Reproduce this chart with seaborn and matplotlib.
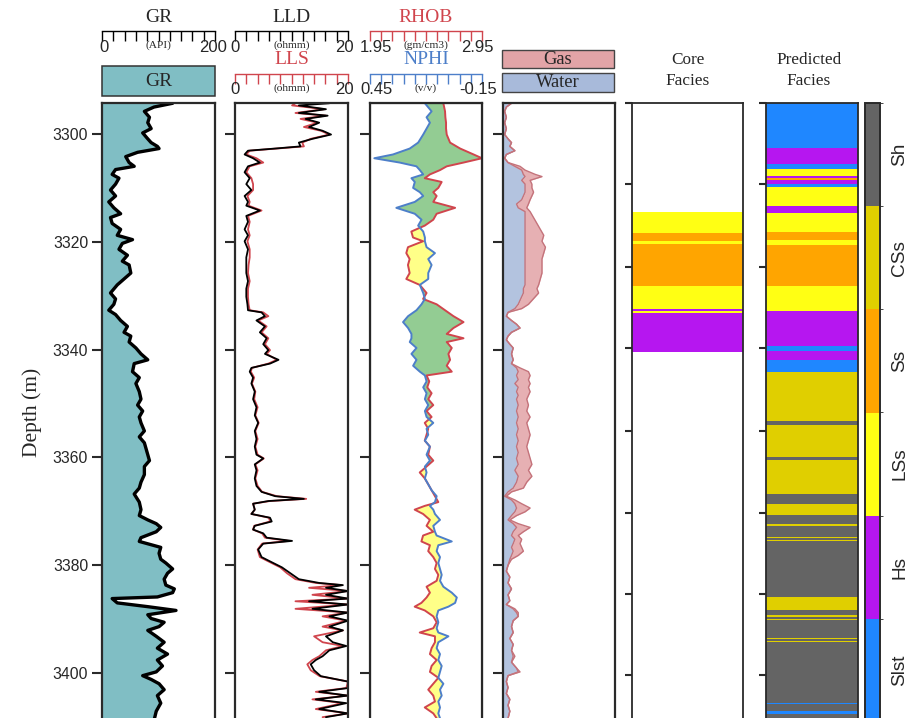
import numpy as np
import matplotlib
matplotlib.use('Agg')
import matplotlib.pyplot as plt
import seaborn as sns
from matplotlib.colors import ListedColormap, BoundaryNorm
from matplotlib.patches import Rectangle
import matplotlib.colorbar as mcolorbar

# ---------------- data ----------------
gr_depth = [3294.3, 3295.0, 3295.8, 3296.9, 3297.9, 3299.0, 3299.8, 3300.9, 3301.6, 3302.3,
            3302.7, 3303.4, 3304.2, 3305.3, 3306.0, 3306.6, 3307.5, 3308.2, 3309.3, 3310.4,
            3311.5, 3312.6, 3313.7, 3314.8, 3315.5, 3316.6, 3317.7, 3318.8, 3319.6, 3320.3,
            3321.4, 3322.5, 3323.6, 3324.3, 3325.8, 3326.9, 3328.0, 3329.5, 3330.6, 3331.6,
            3332.7, 3333.5, 3334.6, 3335.7, 3336.8, 3337.5, 3338.6, 3339.7, 3340.8, 3341.9,
            3342.6, 3344.1, 3345.2, 3346.3, 3347.8, 3349.2, 3350.3, 3351.4, 3352.5, 3353.6,
            3355.1, 3356.2, 3357.3, 3358.4, 3359.5, 3360.6, 3361.7, 3363.2, 3364.6, 3365.7,
            3366.8, 3368.3, 3369.7, 3370.8, 3371.6, 3372.3, 3373.0, 3373.8, 3374.9, 3375.6,
            3376.7, 3377.8, 3378.9, 3379.6, 3380.7, 3381.5, 3382.6, 3383.7, 3384.4, 3385.1,
            3385.9, 3386.2, 3387.0, 3387.7, 3388.4, 3389.2, 3389.9, 3390.6, 3391.4, 3392.1,
            3393.2, 3394.3, 3395.4, 3396.5, 3397.6, 3398.7, 3399.8, 3400.5, 3401.2, 3402.0,
            3403.1, 3404.2, 3405.6, 3407.1, 3408.4]
gr_api = [125, 92, 75, 84, 81, 87, 72, 81, 87, 98,
          101, 63, 42, 48, 57, 24, 18, 30, 24, 15,
          24, 12, 21, 33, 15, 18, 33, 27, 54, 36,
          30, 45, 36, 48, 51, 39, 27, 15, 24, 21,
          12, 24, 33, 45, 39, 51, 48, 60, 69, 81,
          57, 54, 66, 60, 66, 69, 63, 72, 66, 69,
          75, 66, 75, 78, 81, 84, 75, 75, 69, 66,
          57, 66, 69, 66, 81, 96, 104, 96, 69, 66,
          104, 101, 104, 113, 125, 116, 110, 113, 128, 125,
          98, 18, 27, 81, 131, 81, 87, 110, 101, 81,
          96, 110, 98, 116, 98, 107, 96, 72, 87, 101,
          110, 98, 104, 96, 93]

res_depth = [3294.3, 3294.7, 3295.4, 3296.1, 3296.6, 3297.2, 3297.9, 3298.7, 3299.4, 3300.1,
             3300.9, 3301.6, 3302.3, 3302.7, 3303.1, 3303.8, 3304.5, 3305.3, 3306.0, 3307.1,
             3308.2, 3309.3, 3310.4, 3311.5, 3312.6, 3313.3, 3314.2, 3315.2, 3316.3, 3317.7,
             3318.8, 3319.9, 3321.4, 3322.9, 3324.3, 3325.8, 3327.3, 3328.7, 3330.2, 3331.6,
             3332.7, 3333.1, 3333.8, 3334.6, 3335.7, 3336.8, 3337.9, 3339.0, 3340.1, 3340.8,
             3341.9, 3342.6, 3343.4, 3344.1, 3345.2, 3346.3, 3347.8, 3349.2, 3350.7, 3352.2,
             3353.6, 3355.1, 3356.6, 3358.0, 3359.5, 3360.2, 3361.3, 3362.4, 3363.9, 3365.3,
             3366.4, 3367.2, 3367.7, 3368.1, 3368.6, 3369.7, 3370.5, 3371.2, 3371.9, 3372.7,
             3373.4, 3374.1, 3374.9, 3375.5, 3376.0, 3377.1, 3378.5, 3379.3, 3380.4, 3381.5,
             3382.6, 3383.3, 3383.7, 3384.2, 3384.8, 3385.5, 3386.2, 3386.7, 3387.3, 3388.1,
             3388.8, 3389.5, 3390.3, 3391.4, 3392.1, 3393.2, 3394.3, 3395.0, 3395.8, 3396.9,
             3397.6, 3398.4, 3399.5, 3400.6, 3401.6, 3402.8, 3403.5, 3404.2, 3404.9, 3405.6,
             3406.7, 3407.5, 3408.2]
lld = [16.7, 11.3, 16.1, 11.3, 16.4, 12.5, 14.9, 13.1, 15.5, 17.0,
       13.7, 11.3, 11.6, 7.1, 2.3, 1.7, 3.2, 4.4, 2.3, 1.7,
       2.6, 2.0, 2.9, 1.7, 2.3, 2.0, 4.4, 2.0, 2.3, 1.7,
       2.3, 1.7, 2.3, 2.0, 2.0, 2.0, 2.3, 2.0, 2.0, 2.2,
       2.3, 4.7, 5.3, 3.8, 5.3, 4.4, 5.6, 5.0, 5.9, 5.3,
       7.7, 6.2, 2.9, 2.6, 3.2, 2.9, 3.5, 3.2, 3.8, 3.5,
       4.1, 3.5, 3.8, 3.5, 3.8, 5.0, 3.5, 3.8, 3.5, 3.8,
       4.7, 7.1, 12.2, 5.9, 3.2, 3.5, 2.9, 6.2, 6.5, 3.5,
       3.2, 5.0, 5.6, 10.1, 5.0, 4.1, 4.7, 6.2, 8.3, 9.8,
       11.3, 14.9, 19.1, 16.1, 20.0, 16.1, 20.0, 13.1, 20.0, 13.7,
       20.0, 16.7, 20.0, 16.7, 19.1, 16.1, 17.3, 19.7, 16.7, 15.5,
       14.3, 13.4, 14.0, 15.2, 20.0, 20.0, 14.9, 20.0, 14.3, 19.7,
       14.9, 20.0, 16.1]
lls = [10.7, 10.1, 15.8, 10.7, 16.1, 11.6, 14.6, 12.2, 15.2, 16.7,
       13.4, 11.9, 12.2, 7.4, 2.6, 2.0, 3.8, 5.0, 2.6, 2.0,
       2.9, 3.2, 3.2, 2.2, 2.6, 2.4, 4.7, 2.3, 2.6, 2.3,
       2.6, 2.2, 2.6, 2.6, 2.4, 2.3, 2.6, 2.3, 2.3, 2.4,
       2.6, 5.0, 5.9, 4.1, 5.6, 4.7, 5.9, 5.3, 6.2, 5.6,
       7.4, 5.9, 3.0, 2.8, 3.4, 3.0, 3.6, 3.4, 4.0, 3.6,
       4.2, 3.6, 4.0, 3.6, 4.0, 5.1, 3.6, 4.0, 3.6, 4.0,
       4.8, 7.4, 12.6, 6.2, 3.2, 3.5, 2.9, 6.0, 6.2, 3.4,
       3.2, 4.8, 5.3, 9.5, 4.8, 4.0, 4.4, 5.9, 8.0, 9.2,
       10.7, 14.3, 18.8, 13.1, 20.0, 13.7, 20.0, 10.7, 20.0, 10.7,
       20.0, 15.5, 19.7, 15.5, 19.1, 14.0, 15.5, 19.1, 16.1, 14.9,
       13.7, 12.8, 13.4, 15.0, 20.0, 19.7, 14.3, 20.0, 13.7, 19.1,
       14.3, 20.0, 15.5]

dn_depth = [3294.3, 3295.8, 3296.9, 3297.9, 3299.0, 3300.1, 3301.6, 3302.7, 3303.8, 3304.5,
            3305.3, 3306.0, 3306.7, 3307.5, 3308.2, 3308.9, 3310.0, 3310.8, 3311.5, 3312.6,
            3313.7, 3314.8, 3315.9, 3317.0, 3318.1, 3319.2, 3319.9, 3321.0, 3322.1, 3323.2,
            3324.3, 3325.8, 3326.9, 3328.0, 3329.5, 3330.6, 3331.6, 3332.7, 3333.8, 3334.9,
            3336.0, 3337.1, 3337.9, 3338.6, 3339.7, 3340.8, 3341.9, 3343.0, 3344.1, 3344.8,
            3345.9, 3347.0, 3348.1, 3349.2, 3350.3, 3351.4, 3352.5, 3353.6, 3354.7, 3355.8,
            3356.9, 3358.0, 3359.5, 3360.6, 3361.7, 3362.8, 3363.9, 3365.0, 3366.1, 3367.2,
            3368.3, 3369.0, 3369.7, 3370.5, 3371.6, 3372.7, 3373.8, 3374.5, 3375.6, 3376.3,
            3377.4, 3378.5, 3379.6, 3380.7, 3381.8, 3382.9, 3384.0, 3385.1, 3386.0, 3387.0,
            3387.7, 3388.4, 3389.5, 3390.6, 3391.7, 3392.5, 3393.2, 3394.3, 3395.4, 3396.5,
            3397.6, 3398.7, 3399.8, 3400.9, 3402.0, 3403.1, 3404.2, 3405.3, 3406.4, 3407.5,
            3408.4]
rhob = [2.605, 2.62, 2.623, 2.629, 2.629, 2.635, 2.665, 2.755, 2.875, 2.95,
        2.785, 2.635, 2.575, 2.485, 2.439, 2.59, 2.56, 2.515, 2.545, 2.515,
        2.71, 2.545, 2.515, 2.439, 2.319, 2.334, 2.424, 2.289, 2.274, 2.304,
        2.289, 2.304, 2.274, 2.394, 2.455, 2.424, 2.545, 2.62, 2.695, 2.785,
        2.695, 2.635, 2.785, 2.635, 2.68, 2.65, 2.665, 2.635, 2.68, 2.455,
        2.479, 2.461, 2.50, 2.47, 2.515, 2.455, 2.50, 2.439, 2.47, 2.455,
        2.439, 2.485, 2.47, 2.515, 2.455, 2.394, 2.439, 2.47, 2.50, 2.53,
        2.56, 2.439, 2.349, 2.424, 2.485, 2.455, 2.515, 2.424, 2.409, 2.485,
        2.47, 2.515, 2.545, 2.53, 2.56, 2.545, 2.455, 2.485, 2.455, 2.409,
        2.349, 2.439, 2.515, 2.545, 2.515, 2.394, 2.53, 2.53, 2.50, 2.485,
        2.545, 2.50, 2.485, 2.56, 2.515, 2.47, 2.515, 2.53, 2.439, 2.515,
        2.545]
nphi = [0.156, 0.120, 0.147, 0.129, 0.147, 0.165, 0.192, 0.237, 0.327, 0.427,
        0.291, 0.201, 0.183, 0.165, 0.228, 0.210, 0.219, 0.183, 0.165, 0.210,
        0.309, 0.210, 0.174, 0.192, 0.165, 0.156, 0.156, 0.147, 0.102, 0.138,
        0.120, 0.138, 0.138, 0.183, 0.165, 0.156, 0.174, 0.201, 0.246, 0.273,
        0.246, 0.228, 0.228, 0.237, 0.201, 0.228, 0.201, 0.219, 0.183, 0.156,
        0.147, 0.165, 0.147, 0.156, 0.138, 0.156, 0.147, 0.111, 0.147, 0.138,
        0.156, 0.129, 0.147, 0.129, 0.156, 0.147, 0.156, 0.138, 0.120, 0.093,
        0.102, 0.129, 0.111, 0.102, 0.075, 0.111, 0.102, 0.093, 0.012, 0.084,
        0.093, 0.075, 0.084, 0.075, 0.066, 0.075, 0.057, 0.012, -0.015, -0.006,
        0.030, 0.084, 0.093, 0.084, 0.093, 0.084, 0.030, 0.084, 0.093, 0.075,
        0.084, 0.066, 0.075, 0.084, 0.057, 0.075, 0.066, 0.084, 0.075, 0.084,
        0.075]

fl_depth = [3294.3, 3295.0, 3295.8, 3296.9, 3297.9, 3299.0, 3300.1, 3300.9, 3301.6, 3302.3,
            3303.1, 3303.8, 3304.5, 3305.3, 3306.0, 3306.7, 3307.5, 3307.9, 3308.6, 3309.3,
            3310.0, 3310.8, 3311.5, 3312.2, 3313.0, 3313.7, 3314.4, 3315.5, 3316.6, 3317.7,
            3318.8, 3319.9, 3321.0, 3322.1, 3323.2, 3324.3, 3325.8, 3326.9, 3328.0, 3328.7,
            3329.5, 3330.2, 3330.9, 3331.6, 3332.4, 3333.1, 3333.8, 3334.6, 3335.3, 3336.0,
            3336.8, 3337.5, 3338.2, 3339.0, 3339.7, 3340.8, 3341.9, 3342.6, 3343.4, 3344.1,
            3344.8, 3345.6, 3346.3, 3347.0, 3347.8, 3348.5, 3349.2, 3350.3, 3351.4, 3352.5,
            3353.6, 3354.7, 3355.8, 3356.9, 3358.0, 3359.1, 3360.2, 3361.3, 3362.4, 3363.5,
            3364.6, 3365.7, 3366.4, 3367.2, 3367.9, 3368.6, 3369.4, 3370.1, 3370.8, 3371.6,
            3372.3, 3373.0, 3373.8, 3374.5, 3375.2, 3376.0, 3376.7, 3377.4, 3378.2, 3378.9,
            3380.0, 3381.1, 3382.2, 3383.3, 3384.4, 3385.5, 3386.6, 3387.3, 3388.1, 3388.8,
            3389.5, 3390.3, 3391.4, 3392.5, 3393.6, 3394.7, 3395.8, 3396.9, 3398.0, 3399.1,
            3399.8, 3400.5, 3401.6, 3402.7, 3403.8, 3404.9, 3406.0, 3407.1, 3408.4]
water = [0.076, 0.030, 0.015, 0.030, 0.015, 0.030, 0.015, 0.045, 0.076, 0.061,
         0.106, 0.030, 0.015, 0.045, 0.106, 0.167, 0.182, 0.197, 0.167, 0.197,
         0.197, 0.197, 0.182, 0.167, 0.121, 0.136, 0.197, 0.197, 0.197, 0.197,
         0.197, 0.197, 0.197, 0.197, 0.197, 0.197, 0.197, 0.197, 0.197, 0.182,
         0.182, 0.167, 0.152, 0.136, 0.106, 0.045, 0.030, 0.076, 0.121, 0.152,
         0.076, 0.045, 0.030, 0.061, 0.091, 0.076, 0.091, 0.076, 0.121, 0.136,
         0.121, 0.136, 0.106, 0.136, 0.121, 0.136, 0.121, 0.136, 0.121, 0.136,
         0.121, 0.136, 0.121, 0.136, 0.121, 0.136, 0.121, 0.136, 0.106, 0.136,
         0.121, 0.091, 0.045, 0.015, 0.076, 0.106, 0.121, 0.106, 0.076, 0.045,
         0.091, 0.121, 0.091, 0.076, 0.106, 0.091, 0.076, 0.091, 0.076, 0.061,
         0.045, 0.030, 0.061, 0.045, 0.076, 0.045, 0.061, 0.030, 0.091, 0.121,
         0.136, 0.091, 0.076, 0.091, 0.061, 0.091, 0.076, 0.091, 0.076, 0.121,
         0.136, 0.045, 0.030, 0.045, 0.030, 0.061, 0.045, 0.061, 0.045]
gas = [0.076, 0.030, 0.015, 0.030, 0.015, 0.030, 0.015, 0.045, 0.076, 0.061,
       0.106, 0.030, 0.015, 0.045, 0.152, 0.197, 0.288, 0.348, 0.242, 0.258,
       0.258, 0.273, 0.258, 0.242, 0.227, 0.212, 0.242, 0.273, 0.303, 0.333,
       0.364, 0.348, 0.379, 0.364, 0.348, 0.348, 0.348, 0.333, 0.318, 0.303,
       0.318, 0.288, 0.258, 0.227, 0.167, 0.045, 0.030, 0.076, 0.121, 0.152,
       0.076, 0.045, 0.030, 0.061, 0.091, 0.076, 0.091, 0.076, 0.152, 0.227,
       0.242, 0.227, 0.242, 0.227, 0.242, 0.227, 0.212, 0.227, 0.212, 0.242,
       0.212, 0.227, 0.242, 0.227, 0.212, 0.227, 0.242, 0.258, 0.227, 0.258,
       0.212, 0.182, 0.076, 0.030, 0.106, 0.167, 0.242, 0.197, 0.121, 0.061,
       0.136, 0.242, 0.182, 0.136, 0.167, 0.152, 0.167, 0.182, 0.136, 0.076,
       0.045, 0.030, 0.061, 0.045, 0.076, 0.045, 0.061, 0.030, 0.106, 0.136,
       0.136, 0.091, 0.076, 0.091, 0.061, 0.091, 0.076, 0.106, 0.076, 0.121,
       0.152, 0.045, 0.030, 0.045, 0.030, 0.061, 0.045, 0.061, 0.045]

facies_names = ['Slst', 'Hs', 'LSs', 'Ss', 'CSs', 'Sh']
facies_colors = ['#1F87FF', '#B616F0', '#FFFF14', '#FFA500', '#E0CF00', '#646464']

core_bounds = [3314.5, 3318.4, 3319.9, 3320.4, 3328.2, 3332.5, 3332.8, 3333.2, 3340.4]
core_facies = ['LSs', 'Ss', 'LSs', 'Ss', 'LSs', 'Hs', 'LSs', 'Hs']

pred_bounds = [3294.25, 3302.6, 3305.6, 3306.5, 3307.8, 3308.2, 3308.5, 3309.3, 3309.8, 3313.4,
               3314.7, 3318.2, 3319.7, 3320.6, 3328.2, 3332.8, 3339.3, 3340.3, 3341.9, 3344.2,
               3353.2, 3354.0, 3359.9, 3360.5, 3366.8, 3368.6, 3370.7, 3372.4, 3372.7, 3374.8,
               3375.0, 3375.3, 3375.5, 3385.9, 3388.3, 3389.2, 3389.6, 3390.0, 3390.2, 3393.5,
               3393.7, 3394.0, 3394.2, 3405.5, 3405.8, 3407.0, 3407.6, 3409.5]
pred_facies = ['Slst', 'Hs', 'Slst', 'LSs', 'Hs', 'Ss', 'Hs', 'Slst', 'LSs',
               'Hs', 'LSs', 'Ss', 'LSs', 'Ss', 'LSs', 'Hs', 'Slst', 'Hs', 'Slst',
               'CSs', 'Sh', 'CSs', 'Sh', 'CSs', 'Sh', 'CSs', 'Sh', 'CSs', 'Sh',
               'CSs', 'Sh', 'CSs', 'Sh', 'CSs', 'Sh', 'CSs', 'Sh', 'CSs', 'Sh',
               'CSs', 'Sh', 'CSs', 'Sh', 'Slst', 'Sh', 'Slst', 'Sh']

depth_ticks = [3300, 3320, 3340, 3360, 3380, 3400]
facies_ticks = [3294.3, 3309.3, 3324.7, 3339.7, 3355.1, 3370.3, 3385.3, 3400.4]

# ---------------- style ----------------
sns.set_style('white')
plt.rcParams['font.family'] = ['Liberation Sans', 'DejaVu Sans']
SERIF = ['Liberation Serif', 'DejaVu Serif']

W, H = 909, 718
fig = plt.figure(figsize=(W / 100, H / 100), dpi=100)
DTOP, DBOT = 3294.25, 3409.1
FRAME = '#2a2a2a'
RED = '#D0454D'
BLUE = '#4D7FC9'


def px_axes(x0, x1, y0, y1):
    return fig.add_axes([x0 / W, 1 - y1 / H, (x1 - x0) / W, (y1 - y0) / H])


def ftext(x, y, s, **kw):
    fig.text(x / W, 1 - y / H, s, ha='center', va='center', **kw)


def style_track(ax, ticks=depth_ticks, labels=False, lw=1.6, tlen=7):
    ax.set_ylim(DBOT, DTOP)
    for s in ax.spines.values():
        s.set_color(FRAME)
        s.set_linewidth(lw)
        s.set_visible(True)
    ax.set_yticks(ticks)
    ax.tick_params(axis='y', left=True, direction='out', length=tlen, width=1.5,
                   color=FRAME, labelsize=11.3, labelleft=labels, pad=3)
    ax.set_xticks([])
    ax.set_xlabel('')
    ax.set_ylabel('')


def scale(x0, x1, yline, lo, hi, color, ulabel, lab_lo, lab_hi, lo_x, hi_x):
    ax = fig.add_axes([x0 / W, 1 - yline / H, (x1 - x0) / W, 0.0005])
    ax.set_xlim(lo, hi)
    for s in ['top', 'left', 'right']:
        ax.spines[s].set_visible(False)
    ax.spines['bottom'].set_visible(True)
    ax.spines['bottom'].set_color(color)
    ax.spines['bottom'].set_linewidth(1.0)
    ax.patch.set_visible(False)
    ax.set_yticks([])
    ax.set_xticks(np.linspace(lo, hi, 11))
    ax.set_xticklabels([''] * 11)
    ax.tick_params(axis='x', bottom=True, direction='out', length=7, width=1.0,
                   color=color)
    ftext(lo_x, yline + 16, lab_lo, fontsize=12)
    ftext(hi_x, yline + 16, lab_hi, fontsize=12)
    ftext((x0 + x1) / 2, yline + 14, ulabel, fontsize=8.2, family=SERIF)


# ---------------- GR ----------------
ax1 = px_axes(102, 215, 103, 722)
ax1.fill_betweenx(gr_depth, 0, gr_api, color='#80BEC4', lw=0)
sns.lineplot(x=gr_api, y=gr_depth, orient='y', sort=False, estimator=None,
             color='black', lw=2.4, ax=ax1)
ax1.set_xlim(0, 200)
style_track(ax1, labels=True)
ax1.set_ylabel('Depth (m)', family=SERIF, fontsize=15.5, labelpad=8)

# ---------------- LLD / LLS ----------------
ax2 = px_axes(235, 348, 103, 722)
sns.lineplot(x=lls, y=res_depth, orient='y', sort=False, estimator=None,
             color=RED, lw=1.3, ax=ax2)
sns.lineplot(x=lld, y=res_depth, orient='y', sort=False, estimator=None,
             color='black', lw=1.3, ax=ax2)
ax2.set_xlim(0, 20)
style_track(ax2)

# ---------------- RHOB / NPHI ----------------
ax3 = px_axes(370, 482, 103, 722)
rh = np.array(rhob)
nphi_on_rhob = 1.95 + (0.45 - np.array(nphi)) / 0.6
ax3.fill_betweenx(dn_depth, nphi_on_rhob, rh, where=rh >= nphi_on_rhob,
                  interpolate=True, color='#93CC93', lw=0)
ax3.fill_betweenx(dn_depth, nphi_on_rhob, rh, where=rh < nphi_on_rhob,
                  interpolate=True, color='#FFFF88', lw=0)
sns.lineplot(x=rhob, y=dn_depth, orient='y', sort=False, estimator=None,
             color=RED, lw=1.4, ax=ax3)
ax3.set_xlim(1.95, 2.95)
ax3n = ax3.twiny()
sns.lineplot(x=nphi, y=dn_depth, orient='y', sort=False, estimator=None,
             color=BLUE, lw=1.4, ax=ax3n)
ax3n.set_xlim(0.45, -0.15)
ax3n.set_xticks([])
ax3n.set_xlabel('')
ax3n.set_ylim(DBOT, DTOP)
style_track(ax3)

# ---------------- Water / Gas ----------------
ax4 = px_axes(503, 615, 103, 722)
ax4.fill_betweenx(fl_depth, 0, water, color='#B3C3DF', lw=0)
ax4.fill_betweenx(fl_depth, water, gas, color='#E6B0B3', lw=0)
sns.lineplot(x=gas, y=fl_depth, orient='y', sort=False, estimator=None,
             color='#C4737B', lw=1.0, ax=ax4)
sns.lineplot(x=water, y=fl_depth, orient='y', sort=False, estimator=None,
             color='#C4737B', lw=1.0, ax=ax4)
ax4.set_xlim(0, 1)
style_track(ax4)

# ---------------- Facies ----------------
cmap_of = dict(zip(facies_names, facies_colors))


def draw_facies(ax, bounds, names):
    tops = np.array(bounds[:-1])
    thick = np.diff(bounds)
    ax.barh(tops, [1] * len(names), height=thick, left=0, align='edge',
            color=[cmap_of[n] for n in names], lw=0)
    ax.set_xlim(0, 1)
    style_track(ax, ticks=facies_ticks, lw=1.3, tlen=5)


ax5 = px_axes(632, 743, 103, 722)
draw_facies(ax5, core_bounds, core_facies)
ax6 = px_axes(766, 858, 103, 722)
draw_facies(ax6, pred_bounds, pred_facies)

# colour bar
cax = px_axes(865, 880, 103, 722)
cmap = ListedColormap(facies_colors)
norm = BoundaryNorm(np.arange(len(facies_names) + 1), cmap.N)
cb = mcolorbar.ColorbarBase(cax, cmap=cmap, norm=norm, orientation='vertical')
cb.set_ticks(np.arange(len(facies_names)) + 0.5)
cb.set_ticklabels(facies_names)
cb.outline.set_edgecolor(FRAME)
cb.outline.set_linewidth(1.4)
cax.tick_params(length=0, pad=8, labelsize=13.7)
for t in cax.get_yticklabels():
    t.set_rotation(90)
    t.set_va('center')
    t.set_ha('left')

# ---------------- headers ----------------
ftext(158.5, 18, 'GR', fontsize=14, family=SERIF)
scale(102, 215, 31, 0, 200, 'black', '(API)', '0', '200', 103.5, 213)
ax_box = fig.add_axes([0, 0, 1, 1], facecolor='none')
ax_box.set_axis_off()
ax_box.set_xlim(0, W)
ax_box.set_ylim(H, 0)
ax_box.add_patch(Rectangle((102, 66), 113, 30, facecolor='#80BEC4', edgecolor='#333333', lw=1.1))
ftext(158.5, 81, 'GR', fontsize=14, family=SERIF)

ftext(291.5, 18, 'LLD', fontsize=14, family=SERIF)
scale(235, 348, 31, 0, 20, 'black', '(ohmm)', '0', '20', 235, 344)
ftext(291.5, 60, 'LLS', fontsize=14, family=SERIF, color=RED)
scale(235, 348, 74, 0, 20, RED, '(ohmm)', '0', '20', 235, 344)

ftext(426, 18, 'RHOB', fontsize=14, family=SERIF, color=RED)
scale(370, 482, 31, 1.95, 2.95, RED, '(gm/cm3)', '1.95', '2.95', 375.5, 477.5)
ftext(426, 60, 'NPHI', fontsize=14, family=SERIF, color=BLUE)
scale(370, 482, 74, 0.45, -0.15, BLUE, '(v/v)', '0.45', '-0.15', 376.5, 478)

ax_box.add_patch(Rectangle((502, 50), 112, 18, facecolor='#E2A4A7', edgecolor='#444444', lw=1.0))
ax_box.add_patch(Rectangle((502, 73), 112, 19, facecolor='#A8BADA', edgecolor='#444444', lw=1.0))
ftext(558, 59, 'Gas', fontsize=13.3, family=SERIF)
ftext(558, 82.5, 'Water', fontsize=13.3, family=SERIF)

ftext(688, 60, 'Core', fontsize=12.4, family=SERIF)
ftext(688, 81, 'Facies', fontsize=12.4, family=SERIF)
ftext(809, 60, 'Predicted', fontsize=12.4, family=SERIF)
ftext(809, 81, 'Facies', fontsize=12.4, family=SERIF)

fig.savefig('out.png', dpi=100)
